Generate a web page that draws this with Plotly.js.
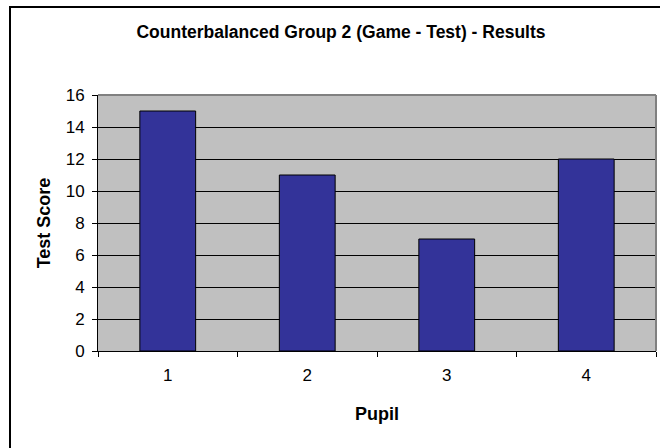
<!DOCTYPE html>
<html>
<head>
<meta charset="utf-8">
<script src="https://cdn.plot.ly/plotly-3.0.1.min.js"></script>
<style>
html,body{margin:0;padding:0;background:#fff;}
#wrap{position:relative;width:660px;height:448px;overflow:hidden;}
#chart{position:absolute;left:0;top:0;width:660px;height:448px;}
#frame{position:absolute;left:9px;top:6px;width:700px;height:500px;border-left:2px solid #000;border-top:2px solid #000;pointer-events:none;}
</style>
</head>
<body>
<div id="wrap"><div id="chart"></div><div id="frame"></div></div>
<script>
const pupils = ['1', '2', '3', '4'];
const scores = [15, 11, 7, 12];
const yTicks = [0, 2, 4, 6, 8, 10, 12, 14, 16];

const font = 'Arial, "Liberation Sans", sans-serif';

Plotly.newPlot('chart', [{
  type: 'bar',
  x: pupils,
  y: scores,
  width: 0.4,
  marker: {color: '#333399', line: {color: '#000000', width: 1}},
  hoverinfo: 'none'
}], {
  width: 660, height: 448,
  margin: {l: 98, r: 4, t: 95, b: 97, pad: 0},
  paper_bgcolor: 'rgba(0,0,0,0)',
  plot_bgcolor: '#C0C0C0',
  showlegend: false,
  font: {family: font, color: '#000', size: 17},
  title: {
    text: '<b>Counterbalanced Group 2 (Game - Test) - Results</b>',
    font: {family: font, size: 17.5, color: '#000'},
    xref: 'container', x: 341/660, xanchor: 'center',
    yref: 'container', y: 1 - 32/448, yanchor: 'middle'
  },
  xaxis: {
    type: 'category',
    tickvals: pupils,
    ticktext: pupils,
    tickson: 'boundaries',
    ticks: 'outside', ticklen: 5, tickcolor: '#000', tickwidth: 1,
    ticklabelstandoff: 9,
    showline: true, linecolor: '#000', linewidth: 1,
    showgrid: false,
    tickfont: {family: font, size: 17, color: '#000'},
    title: {text: '<b>Pupil</b>', font: {family: font, size: 18, color: '#000'}, standoff: 22}
  },
  yaxis: {
    range: [0, 16],
    tickvals: yTicks,
    ticks: 'outside', ticklen: 5, tickcolor: '#000', tickwidth: 1,
    ticklabelstandoff: 4,
    showline: true, linecolor: '#000', linewidth: 1,
    showgrid: true, gridcolor: '#000', gridwidth: 1,
    zeroline: false,
    tickfont: {family: font, size: 17, color: '#000'},
    title: {text: '<b>Test Score</b>', font: {family: font, size: 18, color: '#000'}, standoff: 10}
  },
  shapes: [
    {type: 'line', xref: 'paper', yref: 'paper', x0: 0, x1: 1, y0: 1, y1: 1, line: {color: '#808080', width: 2}, layer: 'above'},
    {type: 'line', xref: 'paper', yref: 'paper', x0: 1, x1: 1, y0: 0, y1: 1, line: {color: '#808080', width: 2}, layer: 'above'}
  ]
}, {staticPlot: true, displayModeBar: false});
</script>
</body>
</html>
